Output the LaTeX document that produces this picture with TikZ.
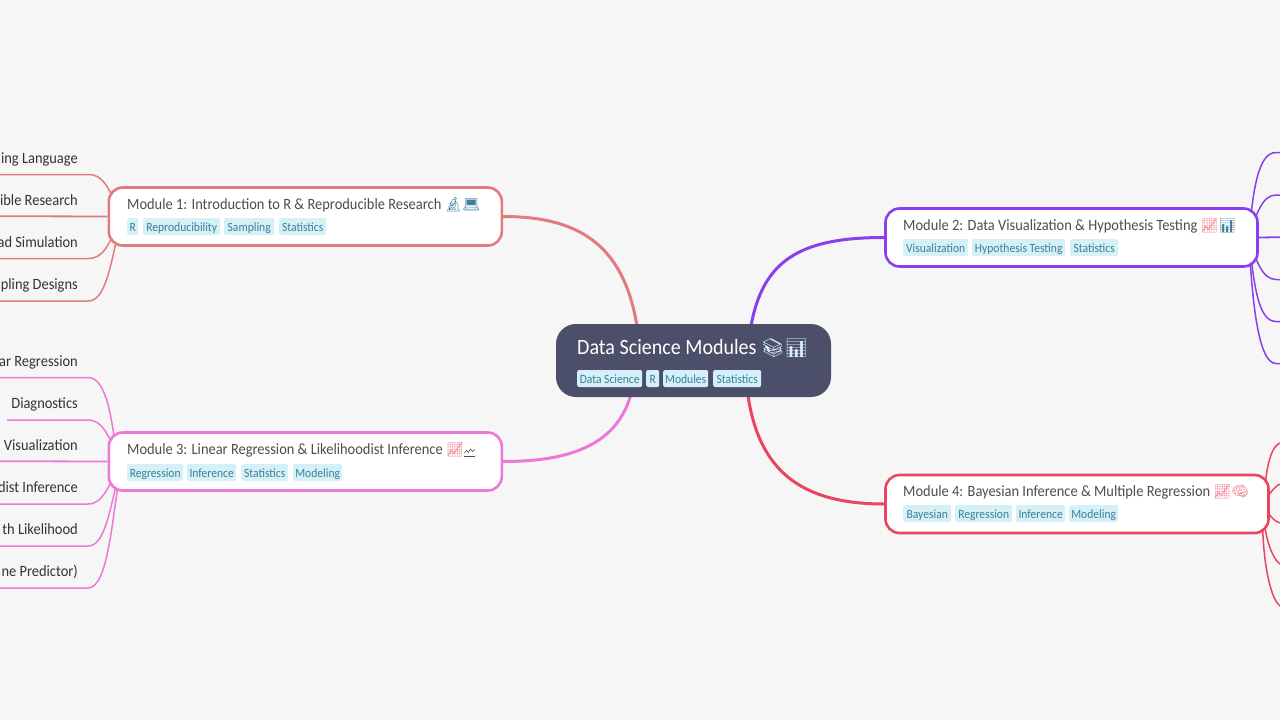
\documentclass[tikz,border=0pt]{standalone}
\usepackage{fontspec}
\setmainfont[FakeStretch=0.92]{Carlito}
\newfontfamily\emo{Noto Emoji}
\usetikzlibrary{calc,backgrounds}
\definecolor{bg}{HTML}{F6F6F6}
\definecolor{cA}{HTML}{E27B80}
\definecolor{cB}{HTML}{8A3FEE}
\definecolor{cC}{HTML}{EE78D6}
\definecolor{cD}{HTML}{EA4560}
\definecolor{rootc}{HTML}{4C4F69}
\definecolor{tagf}{HTML}{D6F0F8}
\definecolor{tagt}{HTML}{3C7F9B}
\definecolor{txt}{HTML}{4D4D4D}
\definecolor{leaft}{HTML}{333333}
\tikzset{
 modbox/.style={draw=#1,line width=2.6pt,fill=white,rounded corners=14pt,inner sep=0pt},
 tagbox/.style={fill=tagf,rounded corners=2pt,inner sep=0pt,text=tagt,font=\fontsize{12.6}{12}\selectfont,minimum height=17pt,text height=11pt,text depth=1.5pt,anchor=west},
 title/.style={anchor=base west,inner sep=0pt,text=txt,font=\fontsize{15.7}{16}\selectfont},
 leaf/.style={anchor=base east,inner sep=0pt,text=leaft,font=\fontsize{15.7}{16}\selectfont},
 main/.style={line width=3pt},
 sub/.style={line width=1.5pt},
}
\newcommand{\tg}[5]{\node[tagbox,minimum width=#3pt] (#1) at (#2,#4) {#5};}
\begin{document}
\begin{tikzpicture}[x=1pt,y=-1pt]
\useasboundingbox (0,0) rectangle (1280,720);
% nodes
\node[modbox=cA,minimum width=393pt,minimum height=58pt] (m1) at (305.3,216.5) {};
\node[modbox=cB,minimum width=372pt,minimum height=58pt] (m2) at (1071.5,237.5) {};
\node[modbox=cC,minimum width=393pt,minimum height=58pt] (m3) at (305.3,461.5) {};
\node[modbox=cD,minimum width=383pt,minimum height=58pt] (m4) at (1077,504) {};
\node[fill=rootc,rounded corners=20pt,minimum width=275pt,minimum height=73pt,inner sep=0pt] (root) at (693.5,360.5) {};
% titles
\node[title,text=white,font=\fontsize{21.8}{22}\selectfont] (t0) at (577,354) {Data Science Modules {\emo\fontsize{18.5}{20}\selectfont\textcolor{tagf}{📚📊}}};
\node[title] (t1) at (127,209) {Module 1: Introduction to R \& Reproducible Research {\emo\fontsize{14}{14}\selectfont\textcolor{tagt}{🔬💻}}};
\node[title] (t2) at (903,230) {Module 2: Data Visualization \& Hypothesis Testing {\emo\fontsize{14}{14}\selectfont\textcolor{cD!70}{📈}\textcolor{tagt}{📊}}};
\node[title] (t3) at (127,454.5) {Module 3: Linear Regression \& Likelihoodist Inference {\emo\fontsize{14}{14}\selectfont\textcolor{cD!70}{📈}}};
\node[title] (t4) at (903,496) {Module 4: Bayesian Inference \& Multiple Regression {\emo\fontsize{14}{14}\selectfont\textcolor{cD!70}{📈🧠}}};
\draw[txt,line width=.5pt] (464,456.5) -- (475,456.5);
\draw[txt,line width=.6pt] (464.5,453) -- (466.5,450.5) -- (468.5,452.5) -- (470.5,449) -- (472.5,451.5) -- (475,449.5);
% tags
\tg{a1}{127}{11}{226.5}{R}
\tg{a2}{143}{77}{226.5}{Reproducibility}
\tg{a3}{224}{50}{226.5}{Sampling}
\tg{a4}{279}{47}{226.5}{Statistics}
\tg{b1}{903}{65}{247.5}{Visualization}
\tg{b2}{972}{93}{247.5}{Hypothesis Testing}
\tg{b3}{1070}{48}{247.5}{Statistics}
\tg{c1}{127}{56}{472.5}{Regression}
\tg{c2}{187}{49}{472.5}{Inference}
\tg{c3}{241}{47}{472.5}{Statistics}
\tg{c4}{293}{49}{472.5}{Modeling}
\tg{d1}{903}{48}{513.5}{Bayesian}
\tg{d2}{955}{57}{513.5}{Regression}
\tg{d3}{1016}{49}{513.5}{Inference}
\tg{d4}{1069}{49}{513.5}{Modeling}
\tg{r1}{577}{65}{378.5}{Data Science}
\tg{r2}{646}{13}{378.5}{R}
\tg{r3}{663}{45}{378.5}{Modules}
\tg{r4}{713}{48}{378.5}{Statistics}
% leaf texts
\node[leaf] (la1) at (78,163) {ing Language};
\node[leaf] (la2) at (78,205) {ible Research};
\node[leaf] (la3) at (78,247) {ad Simulation};
\node[leaf] (la4) at (78,289) {pling Designs};
\node[leaf] (lc1) at (78,366) {ar Regression};
\node[leaf] (lc2) at (78,408) {Diagnostics};
\node[leaf] (lc3) at (78,450) {Visualization};
\node[leaf] (lc4) at (78,492) {dist Inference};
\node[leaf] (lc5) at (78,534) {th Likelihood};
\node[leaf] (lc6) at (78,576) {ne Predictor)};
% free ends
\coordinate (ea1) at (0,174.5); \coordinate (ea2) at (0,216.2); \coordinate (ea3) at (0,258.5); \coordinate (ea4) at (0,301);
\coordinate (ec1) at (0,377.5); \coordinate (ec2) at (7,420); \coordinate (ec3) at (0,461.2); \coordinate (ec4) at (0,504); \coordinate (ec5) at (0,546); \coordinate (ec6) at (0,588);
\foreach \n/\y in {1/152.5,2/195,3/237.2,4/279.5,5/321.5,6/363.5} \coordinate (eb\n) at (1280,\y);
\foreach \n/\y in {1/443,2/484,3/523,4/564,5/606} \coordinate (ed\n) at (1280,\y);
\begin{scope}[on background layer]
\fill[bg] (0,0) rectangle (1280,720);
\draw[main,cA] (m1.east) .. controls (585,216.5) and (625,250) .. ($(root.north)+(-56,5)$);
\draw[main,cB] (m2.west) .. controls (800,237.5) and (762,260) .. ($(root.north)+(57,5)$);
\draw[main,cC] (m3.east) .. controls (570,461.5) and (618,445) .. ($(root.south)+(-62,-5)$);
\draw[main,cD] (m4.west) .. controls (800,504) and (758,470) .. ($(root.south)+(54,-5)$);
\begin{scope}[sub]
\draw[cA] (ea1) -- (88,174.5) .. controls (103,174.5) and (108,186) .. ($(m1.west)+(14,0)$);
\draw[cA,line width=1.8pt] (ea2) -- (m1.west);
\draw[cA] (ea3) -- (88,258.5) .. controls (103,258.5) and (108,247) .. ($(m1.west)+(14,0)$);
\draw[cA] (ea4) -- (88,301) .. controls (105,301) and (110,270) .. ($(m1.west)+(14,0)$);
\draw[cC] (ec1) -- (88,377.5) .. controls (107,377.5) and (112,420) .. ($(m3.west)+(10,0)$);
\draw[cC] (ec2) -- (88,420) .. controls (103,420) and (108,436) .. ($(m3.west)+(14,0)$);
\draw[cC,line width=1.8pt] (ec3) -- (m3.west);
\draw[cC] (ec4) -- (88,504) .. controls (103,504) and (108,487) .. ($(m3.west)+(14,0)$);
\draw[cC] (ec5) -- (88,546) .. controls (105,546) and (110,510) .. ($(m3.west)+(14,0)$);
\draw[cC] (ec6) -- (88,588) .. controls (108,588) and (112,520) .. ($(m3.west)+(14,0)$);
\draw[cB] (eb1) -- (1276,152.5) .. controls (1258,152.5) and (1253,190) .. ($(m2.east)+(-10,0)$);
\draw[cB] (eb2) -- (1276,195) .. controls (1262,195) and (1256,215) .. ($(m2.east)+(-10,0)$);
\draw[cB,line width=1.8pt] (eb3) -- (m2.east);
\draw[cB] (eb4) -- (1276,279.5) .. controls (1262,279.5) and (1256,260) .. ($(m2.east)+(-10,0)$);
\draw[cB] (eb5) -- (1276,321.5) .. controls (1258,321.5) and (1254,285) .. ($(m2.east)+(-10,0)$);
\draw[cB] (eb6) -- (1276,363.5) .. controls (1258,363.5) and (1252,300) .. ($(m2.east)+(-10,0)$);
\draw[cD] (ed1) .. controls (1268,448) and (1265,480) .. ($(m4.east)+(-6,0)$);
\draw[cD] (ed2) .. controls (1274,487) and (1268,495) .. ($(m4.east)+(-6,0)$);
\draw[cD] (ed3) .. controls (1274,521) and (1268,515) .. ($(m4.east)+(-6,0)$);
\draw[cD] (ed4) .. controls (1268,555) and (1262,520) .. ($(m4.east)+(-6,0)$);
\draw[cD] (ed5) .. controls (1266,595) and (1260,530) .. ($(m4.east)+(-6,0)$);
\end{scope}
\end{scope}
\end{tikzpicture}
\end{document}
